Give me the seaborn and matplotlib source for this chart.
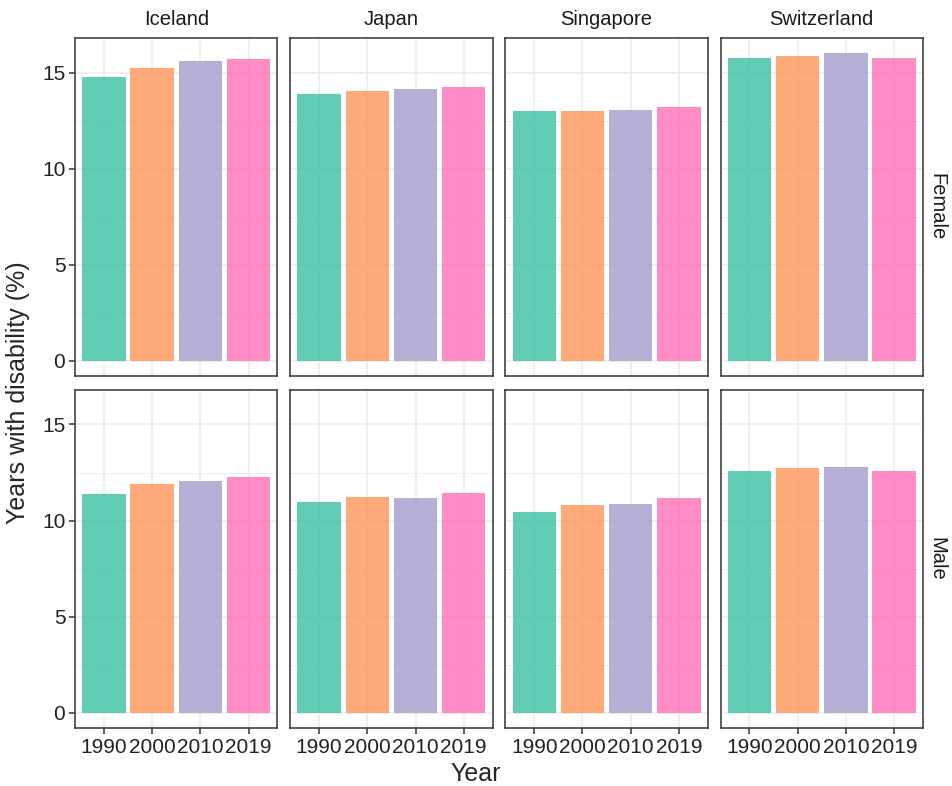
import pandas as pd
import matplotlib.pyplot as plt
import seaborn as sns

# Datos
paises = ['Iceland', 'Japan', 'Singapore', 'Switzerland']
sexos = ['Female', 'Male']
anios = ['1990', '2000', '2010', '2019']

iceland_female = [14.77, 15.26, 15.59, 15.69]
japan_female = [13.88, 14.06, 14.13, 14.27]
singapore_female = [13.00, 13.00, 13.03, 13.21]
switzerland_female = [15.75, 15.85, 16.04, 15.75]

iceland_male = [11.40, 11.90, 12.08, 12.25]
japan_male = [10.95, 11.23, 11.15, 11.43]
singapore_male = [10.42, 10.83, 10.86, 11.17]
switzerland_male = [12.58, 12.74, 12.77, 12.58]

colores = ['#46C4A8', '#FD9B60', '#ABA2CF', '#FF78BA']

series = {
    ('Iceland', 'Female'): iceland_female,
    ('Japan', 'Female'): japan_female,
    ('Singapore', 'Female'): singapore_female,
    ('Switzerland', 'Female'): switzerland_female,
    ('Iceland', 'Male'): iceland_male,
    ('Japan', 'Male'): japan_male,
    ('Singapore', 'Male'): singapore_male,
    ('Switzerland', 'Male'): switzerland_male,
}

filas = []
for (pais, sexo), valores in series.items():
    for anio, v in zip(anios, valores):
        filas.append({'Country': pais, 'Sex': sexo, 'Year': anio, 'Value': v})
df = pd.DataFrame(filas)

sns.set_theme(style='ticks')
plt.rcParams['font.family'] = ['Liberation Sans', 'DejaVu Sans']
plt.rcParams['axes.titlepad'] = 9

g = sns.catplot(
    data=df, kind='bar', x='Year', y='Value', hue='Year',
    col='Country', row='Sex', col_order=paises, row_order=sexos,
    order=anios, hue_order=anios, palette=colores, saturation=1,
    width=0.9, alpha=0.85, linewidth=0, errorbar=None,
    legend=False, sharey=True, margin_titles=True,
    facet_kws=dict(despine=False),
    height=3.4, aspect=0.6,
)

fig = g.figure
fig.set_size_inches(9.52, 7.86)

g.set_titles(col_template='{col_name}', row_template='{row_name}',
             size=14.5, color='#1A1A1A')
g.set_axis_labels('', '')
g.set(ylim=(-0.8, 16.8), xlim=(-0.6, 3.6), yticks=[0, 5, 10, 15])

n_filas, n_cols = g.axes.shape
for i in range(n_filas):
    for j in range(n_cols):
        ax = g.axes[i, j]
        ax.set_yticks([2.5, 7.5, 12.5], minor=True)
        ax.set_axisbelow(True)
        ax.grid(True, which='major', color='#EBEBEB', linewidth=1.1)
        ax.grid(True, which='minor', axis='y', color='#EBEBEB', linewidth=0.6)
        for s in ax.spines.values():
            s.set_visible(True)
            s.set_color('#333333')
            s.set_linewidth(1.1)
        ax.tick_params(which='minor', length=0)
        ax.tick_params(which='major', color='#333333', width=1.1, length=4,
                       labelsize=15, labelcolor='#222222', pad=3)
        if j != 0:
            ax.tick_params(axis='y', length=0)
        if i != n_filas - 1:
            ax.tick_params(axis='x', length=0)

fig.subplots_adjust(left=0.0788, right=0.9695, top=0.9517, bottom=0.0738,
                    wspace=0.063, hspace=0.041)
fig.supxlabel('Year', fontsize=18, y=0.0)
fig.supylabel('Years with disability (%)', fontsize=18, x=0.006)

fig.savefig('out.png', dpi=100)
plt.close()
